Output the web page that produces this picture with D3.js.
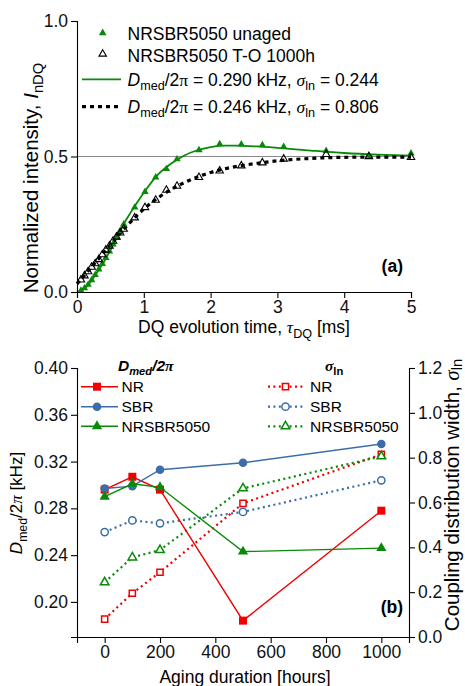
<!DOCTYPE html>
<html><head><meta charset="utf-8">
<script src="https://cdn.jsdelivr.net/npm/d3@7"></script>
<style>
body{margin:0;background:#fff}
svg{display:block;font-family:"Liberation Sans",Arial,Helvetica,sans-serif}
</style></head><body>
<svg id="chart" width="465" height="686"></svg>
<script>
// ---- Panel (a): normalized DQ build-up curves ----
const tauDQ = [0.059,0.112,0.166,0.219,0.272,0.326,0.379,0.432,0.486,0.539,0.592,0.646,0.699,
               0.864,1.018,1.178,1.338,1.497,1.826,2.136,2.46,2.775,3.094,3.73,4.37,5.0];
const iUnaged = [0.005,0.014,0.027,0.044,0.063,0.084,0.104,0.126,0.150,0.176,0.200,0.226,0.250,
                 0.312,0.370,0.423,0.454,0.490,0.524,0.546,0.545,0.542,0.536,0.521,0.503,0.512];
const iAged = [0.045,0.060,0.075,0.092,0.105,0.120,0.138,0.155,0.170,0.188,0.203,0.218,0.232,
               0.274,0.312,0.339,0.376,0.391,0.423,0.447,0.466,0.477,0.491,0.508,0.500,0.497];
const fitTau = [0,0.1,0.2,0.3,0.4,0.5,0.6,0.7,0.8,0.9,1.0,1.2,1.4,1.6,1.8,2.0,2.2,2.4,2.7,3.0,3.5,4.0,4.5,5.0];
const fitUnaged = [0,0.010,0.036,0.072,0.110,0.155,0.204,0.252,0.292,0.330,0.366,0.430,0.472,0.503,
                   0.523,0.535,0.540,0.540,0.537,0.532,0.522,0.513,0.507,0.503];
const fitAged = [0.030,0.058,0.087,0.116,0.145,0.174,0.203,0.232,0.258,0.283,0.306,0.345,0.377,0.403,
                 0.424,0.441,0.454,0.464,0.475,0.484,0.493,0.497,0.498,0.498];
const aXTicks = [0,1,2,3,4,5];
const aYTicks = [0,0.5,1.0];

// ---- Panel (b): median coupling and distribution width vs. aging ----
const agingHours = [0,100,200,500,1000];
const dmedNR = [0.296,0.307,0.296,0.184,0.278];
const dmedSBR = [0.297,0.299,0.313,0.319,0.335];
const dmedBlend = [0.290,0.301,0.298,0.243,0.246];
const sigmaNR = [0.080,0.195,0.289,0.596,0.815];
const sigmaSBR = [0.468,0.520,0.507,0.558,0.699];
const sigmaBlend = [0.244,0.355,0.388,0.663,0.806];
const bXTicks = [0,200,400,600,800,1000];
const bLeftTicks = [0.20,0.24,0.28,0.32,0.36,0.40];
const bRightTicks = [0,0.2,0.4,0.6,0.8,1.0,1.2];
const seriesNames = ["NR","SBR","NRSBR5050"];

const RED = "#f00000", BLUE = "#3b6ea8", GREEN = "#088a08";
const SERIF = "'Liberation Serif','Times New Roman',serif";
const FS = 17.5;       // tick labels
const FS_LEG = 17.5;   // legend of panel (a)
const FS_LEG_B = 15.5; // legend of panel (b)

const svg = d3.select("#chart");

// rich text helper: parts with italic / serif / subscript / bold flags
function rich(text, parts, drop = 4.5) {
  let shift = 0;
  parts.forEach(p => {
    const ts = text.append("tspan").text(p.t);
    const target = p.sub ? drop : 0;
    if (target !== shift) { ts.attr("dy", target - shift); shift = target; }
    if (p.sub) ts.attr("font-size", "0.72em");
    if (p.it) ts.attr("font-style", "italic");
    if (p.serif) ts.attr("font-family", SERIF);
    if (p.bold) ts.attr("font-weight", "bold");
  });
  return text;
}

function styleAxis(g) {
  g.selectAll(".domain").attr("stroke", "#000").attr("stroke-width", 1.1);
  g.selectAll(".tick line").attr("stroke", "#000").attr("stroke-width", 1.1);
  g.selectAll(".tick text").attr("font-size", FS).attr("font-family", "'Liberation Sans',Arial,sans-serif").attr("fill", "#111");
}

// ================= Panel (a) =================
const A = {l: 77, r: 411, t: 21, b: 292};
const xa = d3.scaleLinear().domain([0, 5]).range([A.l, A.r]);
const ya = d3.scaleLinear().domain([0, 1]).range([A.b, A.t]);

// reference line at the plateau value
svg.append("line").attr("x1", xa(0)).attr("x2", xa(5)).attr("y1", ya(0.5)).attr("y2", ya(0.5))
  .attr("stroke", "#8a8a8a").attr("stroke-width", 1.2);

const lineA = d3.line().x((d, i) => xa(fitTau[i])).y(d => ya(d)).curve(d3.curveMonotoneX);
svg.append("path").attr("d", lineA(fitUnaged)).attr("fill", "none").attr("stroke", GREEN).attr("stroke-width", 1.8);
svg.append("path").attr("d", lineA(fitAged)).attr("fill", "none").attr("stroke", "#000")
  .attr("stroke-width", 3.2).attr("stroke-dasharray", "4,4");

const triSmall = d3.symbol().type(d3.symbolTriangle).size(24);
svg.append("g").selectAll("path").data(iUnaged).join("path")
  .attr("d", triSmall).attr("transform", (d, i) => `translate(${xa(tauDQ[i])},${ya(d)})`)
  .attr("fill", GREEN);
svg.append("g").selectAll("path").data(iAged).join("path")
  .attr("d", triSmall).attr("transform", (d, i) => `translate(${xa(tauDQ[i])},${ya(d)})`)
  .attr("fill", "none").attr("stroke", "#000").attr("stroke-width", 1.1);

// axes (a)
const gax = svg.append("g").attr("transform", `translate(0,${A.b})`);
gax.call(d3.axisBottom(xa).tickValues(d3.range(0.5, 5, 1)).tickSize(3).tickFormat(""));
gax.call(d3.axisBottom(xa).tickValues(aXTicks).tickSize(6).tickPadding(3).tickFormat(d3.format("d")));
styleAxis(gax);
const gay = svg.append("g").attr("transform", `translate(${A.l},0)`);
gay.call(d3.axisLeft(ya).tickValues([0.25, 0.75]).tickSize(3).tickFormat(""));
gay.call(d3.axisLeft(ya).tickValues(aYTicks).tickSize(6).tickPadding(3).tickFormat(d3.format(".1f")));
styleAxis(gay);

rich(svg.append("text").attr("x", 244).attr("y", 333).attr("text-anchor", "middle").attr("font-size", 17.5),
  [{t: "DQ evolution time,  "}, {t: "τ", it: true, serif: true}, {t: "DQ", sub: true}, {t: " [ms]"}]);
rich(svg.append("text").attr("transform", "translate(38,178) rotate(-90)").attr("text-anchor", "middle").attr("font-size", 20.5),
  [{t: "Normalized intensity, "}, {t: "I", it: true}, {t: "nDQ", sub: true}], 5);

// legend (a)
const legA = svg.append("g");
legA.append("path").attr("d", d3.symbol().type(d3.symbolTriangle).size(26)).attr("transform", "translate(102.7,33)").attr("fill", GREEN);
legA.append("path").attr("d", d3.symbol().type(d3.symbolTriangle).size(24)).attr("transform", "translate(102.7,54)")
  .attr("fill", "none").attr("stroke", "#000").attr("stroke-width", 1.1);
legA.append("text").attr("x", 127.5).attr("y", 39.5).attr("font-size", FS_LEG).text("NRSBR5050 unaged");
legA.append("text").attr("x", 127.5).attr("y", 61.5).attr("font-size", FS_LEG).text("NRSBR5050 T-O 1000h");
legA.append("line").attr("x1", 82).attr("x2", 121).attr("y1", 79.3).attr("y2", 79.3).attr("stroke", GREEN).attr("stroke-width", 1.8);
legA.append("line").attr("x1", 82).attr("x2", 121).attr("y1", 106.7).attr("y2", 106.7).attr("stroke", "#000")
  .attr("stroke-width", 3.2).attr("stroke-dasharray", "4,4");
const f3 = d3.format(".3f");
[[dmedBlend[0], sigmaBlend[0], 85.5], [dmedBlend[4], sigmaBlend[4], 112.5]].forEach(([d, s, y]) => {
  rich(legA.append("text").attr("x", 127.5).attr("y", y).attr("font-size", FS_LEG),
    [{t: "D", it: true}, {t: "med", sub: true}, {t: "/2"}, {t: "π", serif: true}, {t: " = " + f3(d) + " kHz, "},
     {t: "σ", it: true, serif: true}, {t: "ln", sub: true}, {t: " = " + f3(s)}]);
});
svg.append("text").attr("x", 403).attr("y", 271.5).attr("text-anchor", "end").attr("font-size", FS_LEG).attr("font-weight", "bold").text("(a)");

// ================= Panel (b) =================
const B = {l: 77, r: 409, t: 368, b: 637};
const xb = d3.scaleLinear().domain([-100, 1100]).range([B.l, B.r]);
const yl = d3.scaleLinear().domain([0.17, 0.40]).range([B.b, B.t]);
const yr = d3.scaleLinear().domain([0, 1.2]).range([B.b, B.t]);

const gbx = svg.append("g").attr("transform", `translate(0,${B.b})`);
gbx.call(d3.axisBottom(xb).tickValues(d3.range(-100, 1101, 200)).tickSize(3).tickFormat(""));
gbx.call(d3.axisBottom(xb).tickValues(bXTicks).tickSize(6).tickPadding(3).tickFormat(d3.format("d")));
styleAxis(gbx);
const gbl = svg.append("g").attr("transform", `translate(${B.l},0)`);
gbl.call(d3.axisLeft(yl).tickValues([0.18, 0.22, 0.26, 0.30, 0.34, 0.38]).tickSize(3).tickFormat(""));
gbl.call(d3.axisLeft(yl).tickValues(bLeftTicks).tickSize(6).tickPadding(3).tickFormat(d3.format(".2f")));
styleAxis(gbl);
const gbr = svg.append("g").attr("transform", `translate(${B.r},0)`);
gbr.call(d3.axisRight(yr).tickValues(d3.range(0.1, 1.2, 0.2)).tickSize(3).tickFormat(""));
gbr.call(d3.axisRight(yr).tickValues(bRightTicks).tickSize(6).tickPadding(3).tickFormat(d3.format(".1f")));
styleAxis(gbr);

const symFor = {NR: d3.symbolSquare, SBR: d3.symbolCircle, NRSBR5050: d3.symbolTriangle};
const filledSize = {NR: 64, SBR: 58, NRSBR5050: 46};
const openSize = {NR: 38, SBR: 42, NRSBR5050: 32};
const colorFor = {NR: RED, SBR: BLUE, NRSBR5050: GREEN};

const sigmaSeries = [["NR", sigmaNR], ["SBR", sigmaSBR], ["NRSBR5050", sigmaBlend]];
const dmedSeries = [["NR", dmedNR], ["SBR", dmedSBR], ["NRSBR5050", dmedBlend]];

// distribution width (right axis), dotted with open markers
sigmaSeries.forEach(([name, vals]) => {
  const ln = d3.line().x((d, i) => xb(agingHours[i])).y(d => yr(d));
  svg.append("path").attr("d", ln(vals)).attr("fill", "none").attr("stroke", colorFor[name])
    .attr("stroke-width", 2.2).attr("stroke-dasharray", "2,3.4");
});
sigmaSeries.forEach(([name, vals]) => {
  svg.append("g").selectAll("path").data(vals).join("path")
    .attr("d", d3.symbol().type(symFor[name]).size(openSize[name]))
    .attr("transform", (d, i) => `translate(${xb(agingHours[i])},${yr(d)})`)
    .attr("fill", "#fff").attr("stroke", colorFor[name]).attr("stroke-width", 1.5);
});
// median coupling (left axis), solid with filled markers
dmedSeries.forEach(([name, vals]) => {
  const ln = d3.line().x((d, i) => xb(agingHours[i])).y(d => yl(d));
  svg.append("path").attr("d", ln(vals)).attr("fill", "none").attr("stroke", colorFor[name]).attr("stroke-width", 1.4);
});
dmedSeries.forEach(([name, vals]) => {
  svg.append("g").selectAll("path").data(vals).join("path")
    .attr("d", d3.symbol().type(symFor[name]).size(filledSize[name]))
    .attr("transform", (d, i) => `translate(${xb(agingHours[i])},${yl(d)})`)
    .attr("fill", colorFor[name]);
});

// legend (b)
rich(svg.append("text").attr("x", 118).attr("y", 370.5).attr("font-size", FS_LEG_B).attr("font-weight", "bold").attr("font-style", "italic"),
  [{t: "D"}, {t: "med", sub: true}, {t: "/2"}, {t: "π", serif: true}], 4);
rich(svg.append("text").attr("x", 325).attr("y", 370.5).attr("font-size", FS_LEG_B).attr("font-weight", "bold"),
  [{t: "σ", it: true, serif: true}, {t: "ln", sub: true}], 4);
const rowY = [386.7, 406.7, 426.3];
seriesNames.forEach((name, k) => {
  const y = rowY[k], c = colorFor[name];
  svg.append("line").attr("x1", 81).attr("x2", 118).attr("y1", y).attr("y2", y).attr("stroke", c).attr("stroke-width", 1.6);
  svg.append("path").attr("d", d3.symbol().type(symFor[name]).size(filledSize[name])).attr("transform", `translate(97,${y})`).attr("fill", c);
  svg.append("text").attr("x", 121.5).attr("y", y + 5.5).attr("font-size", FS_LEG_B).text(name);
  svg.append("line").attr("x1", 268).attr("x2", 305).attr("y1", y).attr("y2", y).attr("stroke", c)
    .attr("stroke-width", 2.2).attr("stroke-dasharray", "2,3.4");
  svg.append("path").attr("d", d3.symbol().type(symFor[name]).size(openSize[name])).attr("transform", `translate(285.5,${y})`)
    .attr("fill", "#fff").attr("stroke", c).attr("stroke-width", 1.5);
  svg.append("text").attr("x", 310).attr("y", y + 5.5).attr("font-size", FS_LEG_B).text(name);
});

svg.append("text").attr("x", 403).attr("y", 612.5).attr("text-anchor", "end").attr("font-size", FS_LEG).attr("font-weight", "bold").text("(b)");
svg.append("text").attr("x", 245).attr("y", 683).attr("text-anchor", "middle").attr("font-size", 17.5).text("Aging duration [hours]");
rich(svg.append("text").attr("transform", "translate(22,503) rotate(-90)").attr("text-anchor", "middle").attr("font-size", 17),
  [{t: "D", it: true}, {t: "med", sub: true}, {t: "/2"}, {t: "π", it: true, serif: true}, {t: " [kHz]"}]);
rich(svg.append("text").attr("transform", "translate(459,495) rotate(-90)").attr("text-anchor", "middle").attr("font-size", 20.5),
  [{t: "Coupling distribution width, "}, {t: "σ", it: true, serif: true}, {t: "ln", sub: true}], 2.5);
</script>
</body></html>
